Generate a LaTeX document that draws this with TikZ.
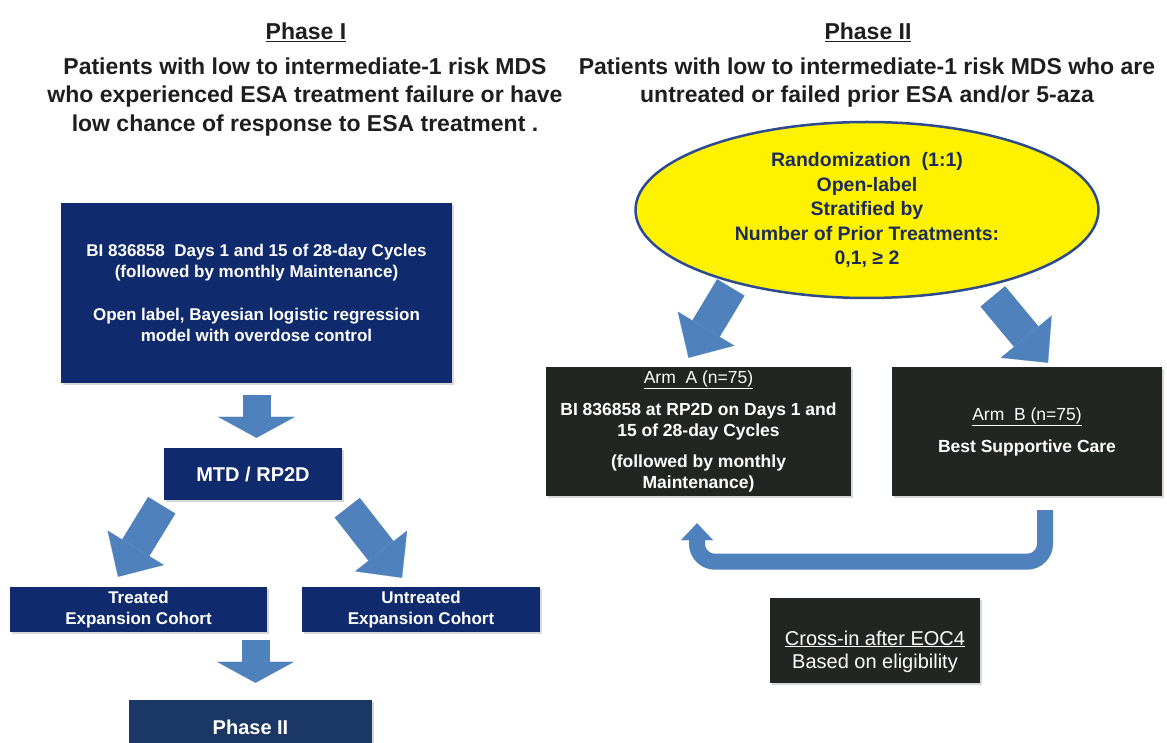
\documentclass[tikz,border=0pt]{standalone}
\usepackage{fontspec}
\setmainfont{Liberation Sans}
\usetikzlibrary{arrows.meta,shapes.geometric,shadows}

\definecolor{navy}{HTML}{0F2B6E}
\definecolor{slate}{HTML}{1B3766}
\definecolor{charcoal}{HTML}{212623}
\definecolor{arrowblue}{HTML}{4F81BD}
\definecolor{ringblue}{HTML}{2E4A8F}
\definecolor{inkblue}{HTML}{1C2B5C}
\definecolor{headgrey}{HTML}{1E1E1E}

\newcommand{\fsz}[2]{\fontsize{#1}{#2}\selectfont}

\begin{document}
\begin{tikzpicture}[x=1pt,y=-1pt,
    head text/.style={font=\bfseries\fsz{23}{28.5},text=headgrey,align=center,inner sep=0pt},
    blue box/.style={rectangle,fill=navy,text=white,font=\bfseries\fsz{17}{21},align=center,
        inner sep=0pt,drop shadow={shadow xshift=2pt,shadow yshift=-2pt,opacity=0.3}},
    black box/.style={blue box,fill=charcoal,font=\bfseries\fsz{17.5}{21}},
    big arrow/.style={draw=arrowblue,line width=28pt,-{Triangle[width=77pt,length=21pt,line width=0.1pt]}},
    side arrow/.style={draw=arrowblue,line width=32pt,-{Triangle[width=66pt,length=34pt,line width=0.1pt]}},
    back arrow/.style={draw=arrowblue,line width=16pt,rounded corners=18pt,-{Triangle[width=32pt,length=17pt,line width=0.1pt]}}]

    \useasboundingbox (0,0) rectangle (1167,743);
    \clip (0,0) rectangle (1167,743);
    \fill[white] (0,0) rectangle (1167,743);

    % Define headings
    \node[head text] (phaseone) at (306,32) {\underline{Phase I}};
    \node[head text] (cohortone) at (305,97) {Patients with low to intermediate-1 risk MDS\\who experienced ESA treatment failure or have\\low chance of response to ESA treatment .};
    \node[head text] (phasetwo) at (868,32) {\underline{Phase II}};
    \node[head text] (cohorttwo) at (867,82.5) {Patients with low to intermediate-1 risk MDS who are\\untreated or failed prior ESA and/or 5-aza};

    % Define boxes (Phase I)
    \node[blue box,minimum width=391pt,minimum height=180pt] (dose) at (256.5,293)
        {BI 836858\ \ Days 1 and 15 of 28-day Cycles\\(followed by monthly Maintenance)\\[22pt]Open label, Bayesian logistic regression\\model with overdose control};
    \node[blue box,font=\bfseries\fsz{20}{24},minimum width=178pt,minimum height=52pt] (mtd) at (253,474) {MTD / RP2D};
    \node[blue box,minimum width=257pt,minimum height=45pt] (treat) at (138.5,609.5) {Treated\\Expansion Cohort};
    \node[blue box,minimum width=238pt,minimum height=45pt] (untreat) at (421,609.5) {Untreated\\Expansion Cohort};
    \node[blue box,fill=slate,font=\bfseries\fsz{20}{24},minimum width=243pt,minimum height=55pt] (phase2) at (250.5,727.5) {Phase II};

    % Define boxes (Phase II)
    \node[ellipse,draw=ringblue,line width=2.5pt,fill=yellow,minimum width=463pt,minimum height=176pt,
        inner sep=0pt,align=center,text=inkblue,font=\bfseries\fsz{19.5}{24.5}] (rand) at (867,210)
        {Randomization\ \ (1:1)\\Open-label\\Stratified by\\Number of Prior Treatments:\\0,1, ≥ 2};
    \node[black box,minimum width=305pt,minimum height=129pt] (armA) at (698.5,431.5)
        {{\mdseries\underline{Arm\ \ A (n=75)}}\\[11pt]BI 836858 at RP2D on Days 1 and\\15 of 28-day Cycles\\[10pt](followed by monthly\\Maintenance)};
    \node[black box,minimum width=270pt,minimum height=129pt] (armB) at (1027,431.5)
        {{\mdseries\underline{Arm\ \ B (n=75)}}\\[11pt]Best Supportive Care};
    \node[black box,font=\fsz{20}{23},minimum width=210pt,minimum height=85pt] (cross) at (875,640.5)
        {\strut\\\strut\underline{Cross-in after EOC4}\\\strut Based on eligibility};

    % Draw arrows
    \path (dose.south) edge[big arrow,shorten <=12pt,shorten >=10pt] (dose.south |- mtd.north)
        ([xshift=-2pt,yshift=-5pt]mtd.south west) edge[side arrow] ([xshift=-20.5pt,yshift=10pt]treat.north)
        ([xshift=5pt,yshift=-7.5pt]mtd.south east) edge[side arrow] ([xshift=-19pt,yshift=9pt]untreat.north)
        ([xshift=5pt]phase2.north |- treat.south) edge[big arrow,shorten <=8pt,shorten >=17pt] ([xshift=5pt]phase2.north)
        ([yshift=-5pt]rand.208) edge[side arrow] ([xshift=-10pt,yshift=9pt]armA.north)
        ([xshift=-3pt,yshift=-12pt]rand.330) edge[side arrow] ([xshift=21pt,yshift=4pt]armB.north);
    \draw[back arrow] ([xshift=18pt,yshift=-14pt]armB.south) |- ([xshift=-1.5pt,yshift=-65.5pt]armA.south)
        -- ([xshift=-1.5pt,yshift=-27pt]armA.south);

\end{tikzpicture}
\end{document}
